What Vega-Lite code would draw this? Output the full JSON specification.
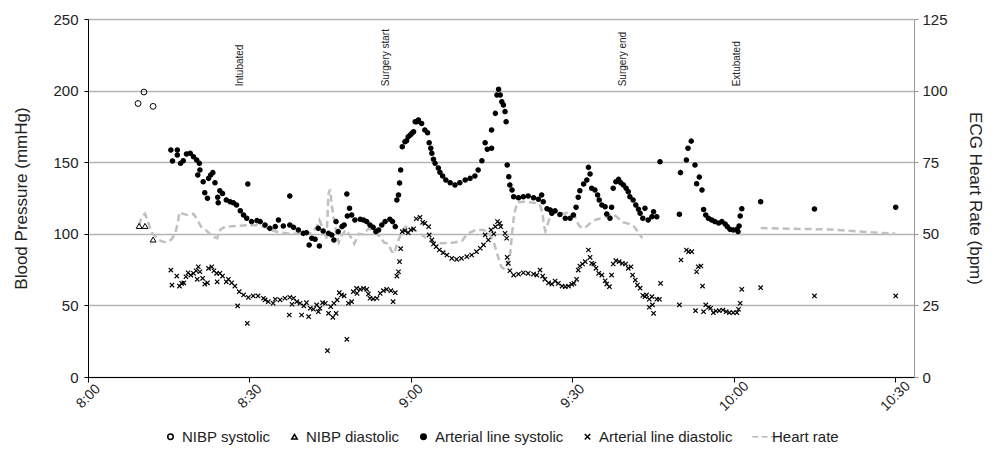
{
  "$schema": "https://vega.github.io/schema/vega-lite/v6.json",
  "width": 826,
  "height": 358,
  "autosize": "none",
  "padding": {"left": 88, "top": 19, "right": 81, "bottom": 75},
  "config": {
    "font": "Liberation Sans",
    "view": {"stroke": null},
    "axis": {"labelColor": "#222", "titleColor": "#222", "titleFontWeight": "normal", "labelFont": "Liberation Sans", "titleFont": "Liberation Sans"},
    "legend": {"labelFont": "Liberation Sans", "layout": {"bottom": {"anchor": "middle"}}}
  },
  "layer": [
    {
      "data": {"values": [
        {"seg":"a","t":9.5,"hr":53},{"seg":"a","t":10.0,"hr":56},{"seg":"a","t":10.6,"hr":57},{"seg":"a","t":11.2,"hr":54},{"seg":"a","t":11.8,"hr":50.5},{"seg":"a","t":12.6,"hr":49},{"seg":"a","t":13.5,"hr":47.5},{"seg":"a","t":14.5,"hr":47},{"seg":"a","t":15.5,"hr":48},{"seg":"a","t":16.2,"hr":50},{"seg":"a","t":16.7,"hr":54},{"seg":"a","t":17.0,"hr":57.5},{"seg":"a","t":17.6,"hr":57},{"seg":"a","t":18.6,"hr":56.5},{"seg":"a","t":19.6,"hr":57},{"seg":"a","t":20.3,"hr":55},{"seg":"a","t":21.0,"hr":52.5},{"seg":"a","t":21.8,"hr":51.5},{"seg":"a","t":22.6,"hr":50},{"seg":"a","t":23.3,"hr":49},{"seg":"a","t":24.0,"hr":48.5},{"seg":"a","t":24.6,"hr":51.5},{"seg":"a","t":25.5,"hr":52.5},{"seg":"a","t":27.5,"hr":52.7},{"seg":"a","t":29.5,"hr":53},{"seg":"a","t":31.5,"hr":53},{"seg":"a","t":33.0,"hr":52.3},{"seg":"a","t":34.0,"hr":51.3},{"seg":"a","t":35.5,"hr":50.5},{"seg":"a","t":37.5,"hr":50},{"seg":"a","t":39.5,"hr":50},{"seg":"a","t":41.5,"hr":50.2},{"seg":"a","t":42.5,"hr":52.5},{"seg":"a","t":43.0,"hr":54.8},{"seg":"a","t":43.6,"hr":52},{"seg":"a","t":44.3,"hr":48},{"seg":"a","t":44.7,"hr":64},{"seg":"a","t":45.0,"hr":65.5},{"seg":"a","t":45.3,"hr":60},{"seg":"a","t":45.7,"hr":55},{"seg":"a","t":46.2,"hr":50},{"seg":"a","t":46.6,"hr":47},{"seg":"a","t":47.2,"hr":49.6},{"seg":"a","t":47.9,"hr":51.3},{"seg":"a","t":48.6,"hr":49.6},{"seg":"a","t":49.5,"hr":46.5},{"seg":"a","t":50.3,"hr":50},{"seg":"a","t":51.2,"hr":49.8},{"seg":"a","t":52.2,"hr":52},{"seg":"a","t":53.0,"hr":50.7},{"seg":"a","t":54.0,"hr":49.5},{"seg":"a","t":55.0,"hr":47},{"seg":"a","t":55.8,"hr":46.5},{"seg":"a","t":56.4,"hr":44},{"seg":"a","t":56.9,"hr":43},{"seg":"a","t":57.5,"hr":47},{"seg":"a","t":58.3,"hr":50.5},{"seg":"a","t":59.0,"hr":52.5},{"seg":"a","t":60.0,"hr":52},{"seg":"a","t":61.5,"hr":50.5},{"seg":"a","t":62.5,"hr":49},{"seg":"a","t":63.5,"hr":47.5},{"seg":"a","t":64.5,"hr":46.8},{"seg":"a","t":66.0,"hr":46.7},{"seg":"a","t":68.0,"hr":47},{"seg":"a","t":69.5,"hr":47.5},{"seg":"a","t":70.5,"hr":50},{"seg":"a","t":72.0,"hr":51.3},{"seg":"a","t":73.5,"hr":51.3},{"seg":"a","t":74.5,"hr":50.5},{"seg":"a","t":75.5,"hr":46.5},{"seg":"a","t":76.2,"hr":42},{"seg":"a","t":76.8,"hr":38.5},{"seg":"a","t":77.5,"hr":37.5},{"seg":"a","t":78.4,"hr":42},{"seg":"a","t":78.8,"hr":50},{"seg":"a","t":79.2,"hr":57},{"seg":"a","t":79.8,"hr":61},{"seg":"a","t":81.0,"hr":61.2},{"seg":"a","t":83.0,"hr":60.8},{"seg":"a","t":84.0,"hr":60},{"seg":"a","t":84.5,"hr":57},{"seg":"a","t":84.7,"hr":53},{"seg":"a","t":85.0,"hr":51},{"seg":"a","t":85.7,"hr":55},{"seg":"a","t":86.5,"hr":57.5},{"seg":"a","t":87.5,"hr":57.5},{"seg":"a","t":88.5,"hr":57},{"seg":"a","t":89.5,"hr":57.5},{"seg":"a","t":90.5,"hr":56},{"seg":"a","t":91.2,"hr":53},{"seg":"a","t":91.8,"hr":52},{"seg":"a","t":92.6,"hr":52.5},{"seg":"a","t":93.5,"hr":54},{"seg":"a","t":94.5,"hr":55},{"seg":"a","t":95.5,"hr":55.5},{"seg":"a","t":96.5,"hr":56},{"seg":"a","t":97.5,"hr":57},{"seg":"a","t":98.5,"hr":55.5},{"seg":"a","t":99.5,"hr":54},{"seg":"a","t":100.5,"hr":53.5},{"seg":"a","t":101.5,"hr":52.5},{"seg":"a","t":102.3,"hr":50.5},{"seg":"a","t":103.0,"hr":48.5},
        {"seg":"b","t":125,"hr":52},{"seg":"b","t":138,"hr":51.5},{"seg":"b","t":150,"hr":50}
      ]},
      "mark": {"type": "line", "color": "#c0c0c0", "strokeWidth": 2.5, "strokeDash": [7, 4]},
      "encoding": {
        "x": {"field": "t", "type": "quantitative", "scale": {"domain": [0, 153.5], "nice": false, "zero": false},
              "axis": {"values": [0, 30, 60, 90, 120, 150], "labelExpr": "(floor(datum.value/60)+8) + ':' + (datum.value%60 < 10 ? '0' : '') + (datum.value%60)", "labelAngle": -45, "labelAlign": "center", "labelBaseline": "middle", "labelFontSize": 14, "tickSize": 5, "tickColor": "#000", "domainColor": "#000", "grid": false, "title": null, "labelPadding": 14, "labelFlush": false}},
        "y": {"field": "hr", "type": "quantitative", "scale": {"domain": [0, 125], "nice": false},
              "axis": {"orient": "right", "values": [0, 25, 50, 75, 100, 125], "title": "ECG Heart Rate (bpm)", "titleFontSize": 17, "labelFontSize": 15, "grid": false, "domainColor": "#999", "tickColor": "#999", "tickSize": 4, "labelPadding": 4, "titlePadding": 18}},
        "detail": {"field": "seg"}
      }
    },
    {
      "layer": [
        {
          "data": {"values": [
            {"series":"NIBP systolic","t":9.3,"v":191},{"series":"NIBP systolic","t":10.4,"v":199},{"series":"NIBP systolic","t":12.1,"v":189},
            {"series":"NIBP diastolic","t":9.5,"v":105.5},{"series":"NIBP diastolic","t":10.6,"v":105.5},{"series":"NIBP diastolic","t":12.1,"v":96}
          ]},
          "mark": {"type": "point", "size": 34, "strokeWidth": 1, "opacity": 1},
          "encoding": {
            "x": {"field": "t", "type": "quantitative"},
            "y": {"field": "v", "type": "quantitative", "scale": {"domain": [0, 250], "nice": false},
                  "axis": {"values": [0, 50, 100, 150, 200, 250], "title": "Blood Pressure (mmHg)", "titleFontSize": 17, "labelFontSize": 15, "grid": true, "gridColor": "#b5b5b5", "gridWidth": 1.3, "domainColor": "#000", "tickColor": "#000", "tickSize": 4, "labelPadding": 6, "titlePadding": 22}},
            "shape": {"field": "series", "type": "nominal",
              "scale": {"domain": ["NIBP systolic", "NIBP diastolic", "Arterial line systolic", "Arterial line diastolic", "Heart rate"],
                        "range": ["circle", "triangle-up", "circle", "M-1,-1L1,1M-1,1L1,-1", "M-3,0L-0.8,0M0.4,0L2.6,0M3.8,0L6,0"]},
              "legend": {"orient": "bottom", "direction": "horizontal", "title": null, "labelFontSize": 15, "labelColor": "#222", "symbolSize": 30, "columnPadding": 16, "labelOffset": 4, "offset": 15,
                         "encode": {
                           "symbols": {"update": {"strokeWidth": {"signal": "datum.value == 'Heart rate' ? 2.5 : (datum.value == 'Arterial line diastolic' ? 1.3 : 1)"}}},
                           "labels": {"update": {"dx": {"signal": "datum.value == 'Heart rate' ? 15 : 0"}}}
                         }}},
            "fill": {"field": "series", "type": "nominal",
              "scale": {"domain": ["NIBP systolic", "NIBP diastolic", "Arterial line systolic", "Arterial line diastolic", "Heart rate"],
                        "range": ["transparent", "transparent", "#000", "transparent", "transparent"]}},
            "stroke": {"field": "series", "type": "nominal",
              "scale": {"domain": ["NIBP systolic", "NIBP diastolic", "Arterial line systolic", "Arterial line diastolic", "Heart rate"],
                        "range": ["#000", "#000", "#000", "#000", "#b8b8b8"]}}
          }
        },
        {
          "data": {"values": [
            {"series":"Arterial line systolic","t":15.4,"v":158.5},{"series":"Arterial line systolic","t":15.7,"v":150.8},{"series":"Arterial line systolic","t":16.6,"v":158.5},{"series":"Arterial line systolic","t":16.6,"v":155},{"series":"Arterial line systolic","t":17.2,"v":149.2},{"series":"Arterial line systolic","t":17.7,"v":151},{"series":"Arterial line systolic","t":18.3,"v":155.7},{"series":"Arterial line systolic","t":19.0,"v":156.2},{"series":"Arterial line systolic","t":19.6,"v":153.8},{"series":"Arterial line systolic","t":20.2,"v":151.5},{"series":"Arterial line systolic","t":20.4,"v":141},{"series":"Arterial line systolic","t":20.7,"v":149.2},{"series":"Arterial line systolic","t":20.8,"v":144.6},{"series":"Arterial line systolic","t":21.4,"v":136.4},{"series":"Arterial line systolic","t":21.7,"v":128.7},{"series":"Arterial line systolic","t":22.2,"v":124.8},{"series":"Arterial line systolic","t":22.4,"v":138.7},{"series":"Arterial line systolic","t":22.8,"v":141},{"series":"Arterial line systolic","t":23.2,"v":142.7},{"series":"Arterial line systolic","t":23.6,"v":135.7},{"series":"Arterial line systolic","t":24.1,"v":125.5},{"series":"Arterial line systolic","t":24.2,"v":121.7},{"series":"Arterial line systolic","t":24.5,"v":130},{"series":"Arterial line systolic","t":25.0,"v":128.2},{"series":"Arterial line systolic","t":25.7,"v":123.6},{"series":"Arterial line systolic","t":26.4,"v":122.4},{"series":"Arterial line systolic","t":27.0,"v":121.7},{"series":"Arterial line systolic","t":27.6,"v":120.1},{"series":"Arterial line systolic","t":28.3,"v":116.1},{"series":"Arterial line systolic","t":28.9,"v":113.1},{"series":"Arterial line systolic","t":29.5,"v":110.8},{"series":"Arterial line systolic","t":29.7,"v":134.8},{"series":"Arterial line systolic","t":30.4,"v":108.5},{"series":"Arterial line systolic","t":31.4,"v":109.2},{"series":"Arterial line systolic","t":32.0,"v":108.5},{"series":"Arterial line systolic","t":32.9,"v":106.1},{"series":"Arterial line systolic","t":33.8,"v":103.8},{"series":"Arterial line systolic","t":34.8,"v":105},{"series":"Arterial line systolic","t":35.4,"v":109.6},{"series":"Arterial line systolic","t":36.3,"v":105.4},{"series":"Arterial line systolic","t":37.5,"v":106.1},{"series":"Arterial line systolic","t":37.5,"v":126.4},{"series":"Arterial line systolic","t":38.2,"v":104.5},{"series":"Arterial line systolic","t":39.1,"v":102.7},{"series":"Arterial line systolic","t":40.0,"v":100.3},{"series":"Arterial line systolic","t":40.6,"v":100.8},{"series":"Arterial line systolic","t":41.1,"v":92.2},{"series":"Arterial line systolic","t":41.6,"v":96.9},{"series":"Arterial line systolic","t":42.2,"v":96.2},{"series":"Arterial line systolic","t":42.8,"v":103.8},{"series":"Arterial line systolic","t":43.0,"v":91.5},{"series":"Arterial line systolic","t":43.7,"v":102},{"series":"Arterial line systolic","t":44.7,"v":100.3},{"series":"Arterial line systolic","t":45.3,"v":99.2},{"series":"Arterial line systolic","t":45.7,"v":95.7},{"series":"Arterial line systolic","t":46.1,"v":108.5},{"series":"Arterial line systolic","t":46.5,"v":101.5},{"series":"Arterial line systolic","t":47.2,"v":105},{"series":"Arterial line systolic","t":47.6,"v":106.1},{"series":"Arterial line systolic","t":48.1,"v":127.8},{"series":"Arterial line systolic","t":48.2,"v":112.4},{"series":"Arterial line systolic","t":48.6,"v":117.8},{"series":"Arterial line systolic","t":49.0,"v":113.1},{"series":"Arterial line systolic","t":49.6,"v":109.6},{"series":"Arterial line systolic","t":50.6,"v":110.1},{"series":"Arterial line systolic","t":51.2,"v":109.6},{"series":"Arterial line systolic","t":51.8,"v":108.5},{"series":"Arterial line systolic","t":52.4,"v":106.1},{"series":"Arterial line systolic","t":53.0,"v":104.5},{"series":"Arterial line systolic","t":53.5,"v":101.5},{"series":"Arterial line systolic","t":54.0,"v":102.7},{"series":"Arterial line systolic","t":54.6,"v":106.1},{"series":"Arterial line systolic","t":55.2,"v":108.5},{"series":"Arterial line systolic","t":56.1,"v":110.1},{"series":"Arterial line systolic","t":56.6,"v":108.5},{"series":"Arterial line systolic","t":57.1,"v":105},{"series":"Arterial line systolic","t":57.4,"v":123.6},{"series":"Arterial line systolic","t":57.7,"v":127.1},{"series":"Arterial line systolic","t":57.9,"v":135.5},{"series":"Arterial line systolic","t":58.1,"v":144.6},{"series":"Arterial line systolic","t":58.4,"v":160.8},{"series":"Arterial line systolic","t":58.9,"v":164.3},{"series":"Arterial line systolic","t":59.2,"v":165},{"series":"Arterial line systolic","t":59.5,"v":167.8},{"series":"Arterial line systolic","t":59.9,"v":169},{"series":"Arterial line systolic","t":60.2,"v":170.2},{"series":"Arterial line systolic","t":60.5,"v":171.3},{"series":"Arterial line systolic","t":60.8,"v":178.3},{"series":"Arterial line systolic","t":61.1,"v":178.3},{"series":"Arterial line systolic","t":61.4,"v":179.5},{"series":"Arterial line systolic","t":62.0,"v":177},{"series":"Arterial line systolic","t":62.6,"v":172.5},{"series":"Arterial line systolic","t":63.1,"v":170.6},{"series":"Arterial line systolic","t":63.4,"v":163.6},{"series":"Arterial line systolic","t":63.7,"v":159.7},{"series":"Arterial line systolic","t":63.9,"v":156.2},{"series":"Arterial line systolic","t":64.2,"v":152},{"series":"Arterial line systolic","t":64.5,"v":149.2},{"series":"Arterial line systolic","t":65.1,"v":146},{"series":"Arterial line systolic","t":65.4,"v":143},{"series":"Arterial line systolic","t":65.9,"v":140.4},{"series":"Arterial line systolic","t":66.5,"v":137.6},{"series":"Arterial line systolic","t":67.3,"v":135.7},{"series":"Arterial line systolic","t":68.2,"v":134.1},{"series":"Arterial line systolic","t":69.1,"v":135.7},{"series":"Arterial line systolic","t":70.1,"v":137.6},{"series":"Arterial line systolic","t":71.0,"v":138.7},{"series":"Arterial line systolic","t":71.9,"v":140.4},{"series":"Arterial line systolic","t":72.5,"v":144.6},{"series":"Arterial line systolic","t":73.2,"v":151},{"series":"Arterial line systolic","t":73.8,"v":163.6},{"series":"Arterial line systolic","t":74.2,"v":159},{"series":"Arterial line systolic","t":75.0,"v":159.7},{"series":"Arterial line systolic","t":75.0,"v":172.5},{"series":"Arterial line systolic","t":75.7,"v":184.1},{"series":"Arterial line systolic","t":76.0,"v":196.9},{"series":"Arterial line systolic","t":76.3,"v":200.9},{"series":"Arterial line systolic","t":76.6,"v":196.9},{"series":"Arterial line systolic","t":76.9,"v":192.2},{"series":"Arterial line systolic","t":77.2,"v":189.9},{"series":"Arterial line systolic","t":77.5,"v":185.3},{"series":"Arterial line systolic","t":77.7,"v":178.3},{"series":"Arterial line systolic","t":77.9,"v":148},{"series":"Arterial line systolic","t":78.2,"v":139.9},{"series":"Arterial line systolic","t":78.4,"v":134.1},{"series":"Arterial line systolic","t":78.8,"v":130.6},{"series":"Arterial line systolic","t":79.1,"v":125.9},{"series":"Arterial line systolic","t":80.0,"v":125.2},{"series":"Arterial line systolic","t":80.9,"v":125.9},{"series":"Arterial line systolic","t":81.8,"v":126.4},{"series":"Arterial line systolic","t":82.8,"v":125.2},{"series":"Arterial line systolic","t":83.7,"v":124.1},{"series":"Arterial line systolic","t":84.3,"v":127.1},{"series":"Arterial line systolic","t":84.6,"v":122.4},{"series":"Arterial line systolic","t":85.3,"v":117.5},{"series":"Arterial line systolic","t":85.9,"v":116.6},{"series":"Arterial line systolic","t":86.2,"v":114.3},{"series":"Arterial line systolic","t":86.8,"v":116},{"series":"Arterial line systolic","t":87.7,"v":113.5},{"series":"Arterial line systolic","t":88.7,"v":110.8},{"series":"Arterial line systolic","t":89.6,"v":110.8},{"series":"Arterial line systolic","t":90.2,"v":113.1},{"series":"Arterial line systolic","t":90.7,"v":118.5},{"series":"Arterial line systolic","t":91.1,"v":125.5},{"series":"Arterial line systolic","t":91.4,"v":130.1},{"series":"Arterial line systolic","t":92.1,"v":134.8},{"series":"Arterial line systolic","t":92.7,"v":137.6},{"series":"Arterial line systolic","t":93.0,"v":146.4},{"series":"Arterial line systolic","t":93.3,"v":141.8},{"series":"Arterial line systolic","t":93.6,"v":131.8},{"series":"Arterial line systolic","t":94.2,"v":130.6},{"series":"Arterial line systolic","t":94.7,"v":127.1},{"series":"Arterial line systolic","t":95.0,"v":123.6},{"series":"Arterial line systolic","t":95.5,"v":120.1},{"series":"Arterial line systolic","t":96.1,"v":118.9},{"series":"Arterial line systolic","t":96.4,"v":113.8},{"series":"Arterial line systolic","t":97.0,"v":110.8},{"series":"Arterial line systolic","t":97.3,"v":118.5},{"series":"Arterial line systolic","t":97.6,"v":131.8},{"series":"Arterial line systolic","t":98.1,"v":136.4},{"series":"Arterial line systolic","t":98.6,"v":138},{"series":"Arterial line systolic","t":99.0,"v":135.7},{"series":"Arterial line systolic","t":99.5,"v":134.1},{"series":"Arterial line systolic","t":100.0,"v":131.8},{"series":"Arterial line systolic","t":100.4,"v":129.4},{"series":"Arterial line systolic","t":100.7,"v":125.9},{"series":"Arterial line systolic","t":101.3,"v":123.6},{"series":"Arterial line systolic","t":101.8,"v":120.1},{"series":"Arterial line systolic","t":102.3,"v":117.1},{"series":"Arterial line systolic","t":102.6,"v":114.3},{"series":"Arterial line systolic","t":103.1,"v":110.8},{"series":"Arterial line systolic","t":103.5,"v":117.8},{"series":"Arterial line systolic","t":104.1,"v":109.6},{"series":"Arterial line systolic","t":104.8,"v":111.9},{"series":"Arterial line systolic","t":105.1,"v":115.4},{"series":"Arterial line systolic","t":105.7,"v":111.9},{"series":"Arterial line systolic","t":106.3,"v":150.3},{"series":"Arterial line systolic","t":109.9,"v":113.6},{"series":"Arterial line systolic","t":110.1,"v":142.7},{"series":"Arterial line systolic","t":111.2,"v":151.5},{"series":"Arterial line systolic","t":111.5,"v":159.7},{"series":"Arterial line systolic","t":112.1,"v":164.7},{"series":"Arterial line systolic","t":112.8,"v":148},{"series":"Arterial line systolic","t":113.1,"v":135},{"series":"Arterial line systolic","t":113.6,"v":139.6},{"series":"Arterial line systolic","t":114.1,"v":130.6},{"series":"Arterial line systolic","t":114.4,"v":117},{"series":"Arterial line systolic","t":114.8,"v":113.1},{"series":"Arterial line systolic","t":115.3,"v":110.8},{"series":"Arterial line systolic","t":115.9,"v":109.6},{"series":"Arterial line systolic","t":116.5,"v":108.5},{"series":"Arterial line systolic","t":117.2,"v":107.5},{"series":"Arterial line systolic","t":117.8,"v":108.5},{"series":"Arterial line systolic","t":118.4,"v":106.8},{"series":"Arterial line systolic","t":118.8,"v":105},{"series":"Arterial line systolic","t":119.3,"v":103.1},{"series":"Arterial line systolic","t":119.9,"v":102.7},{"series":"Arterial line systolic","t":120.6,"v":103.1},{"series":"Arterial line systolic","t":120.8,"v":101.5},{"series":"Arterial line systolic","t":121.0,"v":105.4},{"series":"Arterial line systolic","t":121.2,"v":112.4},{"series":"Arterial line systolic","t":121.5,"v":117.5},{"series":"Arterial line systolic","t":125.0,"v":122.4},{"series":"Arterial line systolic","t":135.0,"v":117.3},{"series":"Arterial line systolic","t":150.1,"v":118.5},
            {"series":"Arterial line diastolic","t":15.4,"v":74.7},{"series":"Arterial line diastolic","t":15.6,"v":64.2},{"series":"Arterial line diastolic","t":16.5,"v":70.5},{"series":"Arterial line diastolic","t":17.0,"v":63.5},{"series":"Arterial line diastolic","t":17.4,"v":65.4},{"series":"Arterial line diastolic","t":17.8,"v":65.8},{"series":"Arterial line diastolic","t":18.2,"v":70},{"series":"Arterial line diastolic","t":18.6,"v":72.8},{"series":"Arterial line diastolic","t":19.1,"v":71.2},{"series":"Arterial line diastolic","t":19.6,"v":72.4},{"series":"Arterial line diastolic","t":20.1,"v":74.2},{"series":"Arterial line diastolic","t":20.3,"v":68.2},{"series":"Arterial line diastolic","t":20.5,"v":77},{"series":"Arterial line diastolic","t":20.8,"v":73.5},{"series":"Arterial line diastolic","t":21.3,"v":68.9},{"series":"Arterial line diastolic","t":21.7,"v":64.9},{"series":"Arterial line diastolic","t":22.2,"v":65.8},{"series":"Arterial line diastolic","t":22.4,"v":75.9},{"series":"Arterial line diastolic","t":23.0,"v":77},{"series":"Arterial line diastolic","t":23.4,"v":74.2},{"series":"Arterial line diastolic","t":23.9,"v":72.4},{"series":"Arterial line diastolic","t":24.0,"v":66.5},{"series":"Arterial line diastolic","t":24.5,"v":72.4},{"series":"Arterial line diastolic","t":25.0,"v":70.5},{"series":"Arterial line diastolic","t":25.7,"v":66.5},{"series":"Arterial line diastolic","t":26.1,"v":68.2},{"series":"Arterial line diastolic","t":26.7,"v":65.8},{"series":"Arterial line diastolic","t":27.3,"v":63.5},{"series":"Arterial line diastolic","t":27.8,"v":49.6},{"series":"Arterial line diastolic","t":28.1,"v":59.6},{"series":"Arterial line diastolic","t":28.9,"v":57.3},{"series":"Arterial line diastolic","t":29.6,"v":37.5},{"series":"Arterial line diastolic","t":29.8,"v":55.6},{"series":"Arterial line diastolic","t":30.7,"v":56.6},{"series":"Arterial line diastolic","t":31.6,"v":56.6},{"series":"Arterial line diastolic","t":32.6,"v":55},{"series":"Arterial line diastolic","t":32.9,"v":53.8},{"series":"Arterial line diastolic","t":33.5,"v":52.6},{"series":"Arterial line diastolic","t":34.4,"v":51.5},{"series":"Arterial line diastolic","t":34.8,"v":54.3},{"series":"Arterial line diastolic","t":35.7,"v":53.8},{"series":"Arterial line diastolic","t":36.6,"v":55},{"series":"Arterial line diastolic","t":37.4,"v":43.3},{"series":"Arterial line diastolic","t":37.5,"v":55.7},{"series":"Arterial line diastolic","t":37.9,"v":50.8},{"series":"Arterial line diastolic","t":38.2,"v":55},{"series":"Arterial line diastolic","t":38.8,"v":52.6},{"series":"Arterial line diastolic","t":39.4,"v":51.5},{"series":"Arterial line diastolic","t":39.7,"v":43.3},{"series":"Arterial line diastolic","t":40.1,"v":49.6},{"series":"Arterial line diastolic","t":40.6,"v":51.9},{"series":"Arterial line diastolic","t":41.0,"v":42.1},{"series":"Arterial line diastolic","t":41.3,"v":48},{"series":"Arterial line diastolic","t":41.9,"v":47.3},{"series":"Arterial line diastolic","t":42.5,"v":50.3},{"series":"Arterial line diastolic","t":42.8,"v":45.6},{"series":"Arterial line diastolic","t":43.1,"v":48},{"series":"Arterial line diastolic","t":43.6,"v":51.9},{"series":"Arterial line diastolic","t":44.1,"v":51.5},{"series":"Arterial line diastolic","t":44.5,"v":18.4},{"series":"Arterial line diastolic","t":44.7,"v":44.5},{"series":"Arterial line diastolic","t":45.1,"v":49.1},{"series":"Arterial line diastolic","t":45.5,"v":41.7},{"series":"Arterial line diastolic","t":45.7,"v":51.5},{"series":"Arterial line diastolic","t":46.1,"v":44.5},{"series":"Arterial line diastolic","t":46.3,"v":53.8},{"series":"Arterial line diastolic","t":46.7,"v":58.9},{"series":"Arterial line diastolic","t":47.1,"v":57.3},{"series":"Arterial line diastolic","t":47.6,"v":56.6},{"series":"Arterial line diastolic","t":48.1,"v":26.3},{"series":"Arterial line diastolic","t":48.4,"v":51.5},{"series":"Arterial line diastolic","t":49.0,"v":52.6},{"series":"Arterial line diastolic","t":49.3,"v":59.6},{"series":"Arterial line diastolic","t":49.9,"v":61.9},{"series":"Arterial line diastolic","t":50.0,"v":58.4},{"series":"Arterial line diastolic","t":50.6,"v":61.2},{"series":"Arterial line diastolic","t":51.2,"v":61.9},{"series":"Arterial line diastolic","t":51.8,"v":61.2},{"series":"Arterial line diastolic","t":52.1,"v":58},{"series":"Arterial line diastolic","t":52.4,"v":55},{"series":"Arterial line diastolic","t":53.0,"v":54.5},{"series":"Arterial line diastolic","t":53.7,"v":55},{"series":"Arterial line diastolic","t":54.3,"v":58.4},{"series":"Arterial line diastolic","t":54.9,"v":60.3},{"series":"Arterial line diastolic","t":55.5,"v":61.2},{"series":"Arterial line diastolic","t":56.3,"v":60.3},{"series":"Arterial line diastolic","t":56.7,"v":52.6},{"series":"Arterial line diastolic","t":57.1,"v":58.9},{"series":"Arterial line diastolic","t":57.4,"v":70.5},{"series":"Arterial line diastolic","t":57.7,"v":73.5},{"series":"Arterial line diastolic","t":57.9,"v":80.5},{"series":"Arterial line diastolic","t":58.1,"v":89.6},{"series":"Arterial line diastolic","t":58.4,"v":101.5},{"series":"Arterial line diastolic","t":58.9,"v":102.2},{"series":"Arterial line diastolic","t":59.5,"v":100.8},{"series":"Arterial line diastolic","t":60.0,"v":102.7},{"series":"Arterial line diastolic","t":60.5,"v":103.5},{"series":"Arterial line diastolic","t":61.0,"v":110.5},{"series":"Arterial line diastolic","t":61.7,"v":111.5},{"series":"Arterial line diastolic","t":62.2,"v":108},{"series":"Arterial line diastolic","t":62.6,"v":107.3},{"series":"Arterial line diastolic","t":63.3,"v":105},{"series":"Arterial line diastolic","t":63.4,"v":99.2},{"series":"Arterial line diastolic","t":63.9,"v":95.7},{"series":"Arterial line diastolic","t":64.2,"v":92.9},{"series":"Arterial line diastolic","t":64.7,"v":91},{"series":"Arterial line diastolic","t":65.3,"v":88.7},{"series":"Arterial line diastolic","t":66.0,"v":86.8},{"series":"Arterial line diastolic","t":66.7,"v":85.2},{"series":"Arterial line diastolic","t":67.6,"v":82.9},{"series":"Arterial line diastolic","t":68.5,"v":82.2},{"series":"Arterial line diastolic","t":69.4,"v":82.9},{"series":"Arterial line diastolic","t":70.4,"v":84},{"series":"Arterial line diastolic","t":71.3,"v":85.2},{"series":"Arterial line diastolic","t":72.2,"v":87.5},{"series":"Arterial line diastolic","t":72.9,"v":89.9},{"series":"Arterial line diastolic","t":73.5,"v":92.2},{"series":"Arterial line diastolic","t":73.8,"v":99.2},{"series":"Arterial line diastolic","t":74.4,"v":95.7},{"series":"Arterial line diastolic","t":74.9,"v":102.7},{"series":"Arterial line diastolic","t":75.4,"v":99.9},{"series":"Arterial line diastolic","t":75.7,"v":105},{"series":"Arterial line diastolic","t":76.1,"v":108.5},{"series":"Arterial line diastolic","t":76.5,"v":107.3},{"series":"Arterial line diastolic","t":76.7,"v":105},{"series":"Arterial line diastolic","t":77.5,"v":100.3},{"series":"Arterial line diastolic","t":77.8,"v":96.9},{"series":"Arterial line diastolic","t":77.9,"v":83.6},{"series":"Arterial line diastolic","t":78.1,"v":79.4},{"series":"Arterial line diastolic","t":78.4,"v":74.2},{"series":"Arterial line diastolic","t":79.1,"v":71.2},{"series":"Arterial line diastolic","t":80.0,"v":71.9},{"series":"Arterial line diastolic","t":80.9,"v":72.8},{"series":"Arterial line diastolic","t":81.8,"v":72.4},{"series":"Arterial line diastolic","t":82.8,"v":71.9},{"series":"Arterial line diastolic","t":83.4,"v":71.2},{"series":"Arterial line diastolic","t":84.0,"v":74.7},{"series":"Arterial line diastolic","t":84.5,"v":70.5},{"series":"Arterial line diastolic","t":84.9,"v":68.2},{"series":"Arterial line diastolic","t":85.6,"v":65.8},{"series":"Arterial line diastolic","t":86.2,"v":64.9},{"series":"Arterial line diastolic","t":86.8,"v":67},{"series":"Arterial line diastolic","t":87.4,"v":65.4},{"series":"Arterial line diastolic","t":88.1,"v":63.5},{"series":"Arterial line diastolic","t":88.7,"v":63.1},{"series":"Arterial line diastolic","t":89.3,"v":63.5},{"series":"Arterial line diastolic","t":89.9,"v":64.7},{"series":"Arterial line diastolic","t":90.3,"v":65.4},{"series":"Arterial line diastolic","t":90.8,"v":68.2},{"series":"Arterial line diastolic","t":91.1,"v":74.7},{"series":"Arterial line diastolic","t":91.4,"v":77.5},{"series":"Arterial line diastolic","t":91.9,"v":78.9},{"series":"Arterial line diastolic","t":92.4,"v":80.5},{"series":"Arterial line diastolic","t":93.0,"v":88.7},{"series":"Arterial line diastolic","t":93.3,"v":83.6},{"series":"Arterial line diastolic","t":93.6,"v":79.4},{"series":"Arterial line diastolic","t":94.0,"v":78.9},{"series":"Arterial line diastolic","t":94.4,"v":75.9},{"series":"Arterial line diastolic","t":94.9,"v":72.4},{"series":"Arterial line diastolic","t":95.5,"v":71.2},{"series":"Arterial line diastolic","t":96.1,"v":67.2},{"series":"Arterial line diastolic","t":96.4,"v":64.9},{"series":"Arterial line diastolic","t":96.9,"v":63.1},{"series":"Arterial line diastolic","t":97.3,"v":71.2},{"series":"Arterial line diastolic","t":97.6,"v":78.9},{"series":"Arterial line diastolic","t":98.1,"v":81.2},{"series":"Arterial line diastolic","t":98.7,"v":80.5},{"series":"Arterial line diastolic","t":99.3,"v":79.4},{"series":"Arterial line diastolic","t":99.9,"v":78.9},{"series":"Arterial line diastolic","t":100.4,"v":75.9},{"series":"Arterial line diastolic","t":100.9,"v":77},{"series":"Arterial line diastolic","t":101.2,"v":71.2},{"series":"Arterial line diastolic","t":101.7,"v":67.7},{"series":"Arterial line diastolic","t":102.1,"v":64.2},{"series":"Arterial line diastolic","t":102.6,"v":62},{"series":"Arterial line diastolic","t":103.1,"v":57},{"series":"Arterial line diastolic","t":103.5,"v":56.1},{"series":"Arterial line diastolic","t":103.8,"v":57.3},{"series":"Arterial line diastolic","t":104.3,"v":54.3},{"series":"Arterial line diastolic","t":104.3,"v":48.7},{"series":"Arterial line diastolic","t":104.8,"v":56.1},{"series":"Arterial line diastolic","t":104.9,"v":50.3},{"series":"Arterial line diastolic","t":105.1,"v":44.5},{"series":"Arterial line diastolic","t":105.7,"v":54.3},{"series":"Arterial line diastolic","t":106.2,"v":54.3},{"series":"Arterial line diastolic","t":106.4,"v":65.4},{"series":"Arterial line diastolic","t":109.9,"v":50.3},{"series":"Arterial line diastolic","t":110.2,"v":81.7},{"series":"Arterial line diastolic","t":111.2,"v":88.7},{"series":"Arterial line diastolic","t":111.6,"v":87.5},{"series":"Arterial line diastolic","t":112.2,"v":87.5},{"series":"Arterial line diastolic","t":112.9,"v":46.3},{"series":"Arterial line diastolic","t":113.1,"v":73.5},{"series":"Arterial line diastolic","t":113.4,"v":77},{"series":"Arterial line diastolic","t":113.9,"v":77.5},{"series":"Arterial line diastolic","t":114.2,"v":63.5},{"series":"Arterial line diastolic","t":114.4,"v":45.6},{"series":"Arterial line diastolic","t":114.8,"v":50.3},{"series":"Arterial line diastolic","t":115.3,"v":48.7},{"series":"Arterial line diastolic","t":115.7,"v":48},{"series":"Arterial line diastolic","t":116.2,"v":44.9},{"series":"Arterial line diastolic","t":116.7,"v":46.1},{"series":"Arterial line diastolic","t":117.3,"v":46.3},{"series":"Arterial line diastolic","t":118.0,"v":46.8},{"series":"Arterial line diastolic","t":118.6,"v":45.6},{"series":"Arterial line diastolic","t":119.2,"v":44.9},{"series":"Arterial line diastolic","t":119.9,"v":44.9},{"series":"Arterial line diastolic","t":120.6,"v":44.9},{"series":"Arterial line diastolic","t":120.9,"v":47.3},{"series":"Arterial line diastolic","t":121.2,"v":51.5},{"series":"Arterial line diastolic","t":121.5,"v":61.2},{"series":"Arterial line diastolic","t":125.0,"v":62.4},{"series":"Arterial line diastolic","t":135.0,"v":56.6},{"series":"Arterial line diastolic","t":150.1,"v":56.6}
          ]},
          "mark": {"type": "point", "size": 19, "strokeWidth": 1.2, "opacity": 1},
          "encoding": {
            "x": {"field": "t", "type": "quantitative"},
            "y": {"field": "v", "type": "quantitative"},
            "shape": {"field": "series", "type": "nominal"},
            "fill": {"field": "series", "type": "nominal"},
            "stroke": {"field": "series", "type": "nominal"}
          }
        },
        {
          "data": {"values": [
            {"event": "Intubated", "t": 28.3},
            {"event": "Surgery start", "t": 55.4},
            {"event": "Surgery end", "t": 99.4},
            {"event": "Extubated", "t": 120.6}
          ]},
          "mark": {"type": "text", "angle": 270, "align": "left", "baseline": "middle", "fontSize": 10, "color": "#222"},
          "encoding": {
            "x": {"field": "t", "type": "quantitative"},
            "y": {"datum": 203},
            "text": {"field": "event"}
          }
        }
      ]
    }
  ],
  "resolve": {"scale": {"y": "independent"}}
}
